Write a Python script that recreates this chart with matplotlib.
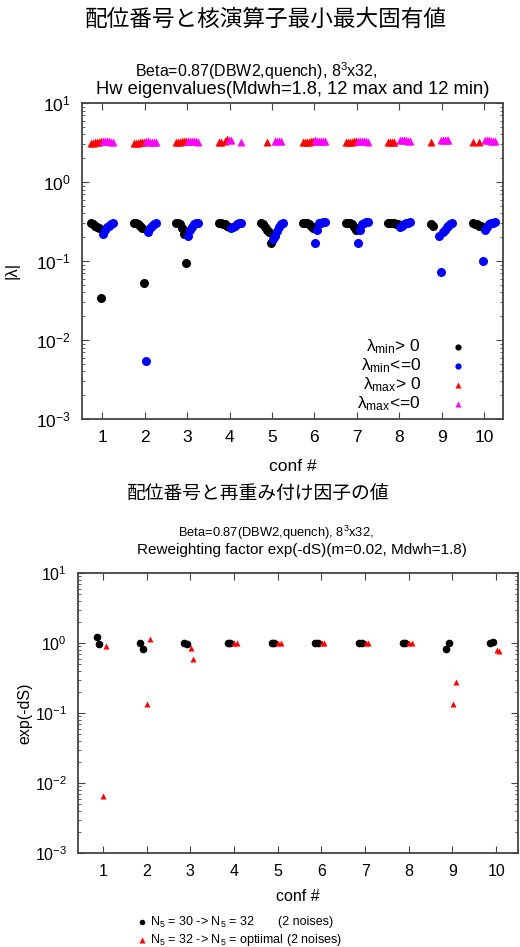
import numpy as np
import matplotlib
matplotlib.use("Agg")
import matplotlib.pyplot as plt

plt.rcParams['font.family'] = ['Liberation Sans', 'Noto Sans CJK JP', 'DejaVu Sans']
plt.rcParams['mathtext.fontset'] = 'custom'
plt.rcParams['mathtext.rm'] = 'Liberation Sans'
plt.rcParams['mathtext.it'] = 'Liberation Sans:italic'
plt.rcParams['mathtext.bf'] = 'Liberation Sans:bold'

confs = [1, 2, 3, 4, 5, 6, 7, 8, 9, 10]
nan = np.nan

# 12 lowest Hw eigenvalues per conf (signed, in plotting order)
min_c1 = [0.30, 0.29, 0.28, 0.27, 0.26, 0.034, -0.22, -0.25, -0.27, -0.28, -0.29, -0.30]
min_c2 = [0.30, 0.30, 0.29, 0.28, 0.26, 0.052, -0.0054, -0.23, -0.26, -0.28, -0.29, -0.30]
min_c3 = [0.30, 0.30, 0.29, 0.26, 0.22, 0.095, -0.21, -0.25, -0.27, -0.29, -0.30, -0.30]
min_c4 = [0.30, 0.30, 0.29, 0.29, 0.28, 0.27, -0.26, -0.27, -0.28, -0.29, -0.30, -0.30]
min_c5 = [0.30, 0.29, 0.27, 0.25, 0.23, 0.17, -0.19, -0.21, -0.24, -0.27, -0.29, -0.30]
min_c6 = [0.30, 0.30, 0.30, 0.29, 0.28, 0.26, -0.17, -0.25, -0.30, -0.30, -0.31, -0.31]
min_c7 = [0.30, 0.30, 0.30, 0.29, 0.27, 0.25, -0.17, -0.25, -0.29, -0.30, -0.31, -0.31]
min_c8 = [0.30, 0.30, 0.30, 0.30, 0.29, 0.29, -0.27, -0.28, -0.29, -0.30, -0.30, -0.31]
min_c9 = [0.29, 0.28, nan, nan, -0.21, -0.073, -0.23, -0.25, -0.27, -0.28, -0.29, -0.30]
min_c10 = [0.30, 0.29, 0.29, 0.28, 0.28, -0.10, -0.25, -0.27, -0.29, -0.30, -0.30, -0.31]
lam_min = [min_c1, min_c2, min_c3, min_c4, min_c5, min_c6, min_c7, min_c8, min_c9, min_c10]

# 12 highest Hw eigenvalues per conf
max_c1 = [3.15, 3.15, 3.2, 3.2, 3.25, 3.3, -3.35, -3.35, -3.3, -3.3, -3.25, -3.2]
max_c2 = [3.15, 3.15, 3.15, 3.2, 3.2, 3.25, -3.3, -3.3, -3.25, -3.25, -3.2, -3.2]
max_c3 = [3.2, 3.2, 3.25, 3.3, 3.3, 3.3, -3.35, -3.35, -3.3, -3.3, -3.3, -3.25]
max_c4 = [3.2, 3.25, nan, 3.3, 3.5, -3.45, -3.4, nan, nan, nan, nan, -3.2]
max_c5 = [nan, nan, nan, 3.2, nan, nan, nan, -3.3, -3.3, -3.3, -3.3, nan]
max_c6 = [3.2, 3.2, 3.2, 3.25, 3.3, 3.3, -3.4, -3.35, -3.3, -3.3, -3.3, -3.3]
max_c7 = [3.2, 3.2, 3.25, 3.25, 3.3, 3.3, -3.35, -3.35, -3.3, -3.3, -3.3, -3.25]
max_c8 = [3.2, 3.2, 3.25, 3.25, nan, nan, -3.4, -3.4, -3.4, -3.4, -3.35, -3.3]
max_c9 = [3.2, nan, nan, nan, nan, -3.4, -3.45, -3.45, -3.4, -3.4, nan, nan]
max_c10 = [3.2, nan, nan, 3.25, nan, nan, -3.4, -3.4, -3.4, -3.35, -3.35, -3.3]
lam_max = [max_c1, max_c2, max_c3, max_c4, max_c5, max_c6, max_c7, max_c8, max_c9, max_c10]

# reweighting factors exp(-dS), two noises each
ds_30_32_n1 = [1.2, 1.0, 1.01, 1.0, 1.0, 1.0, 1.0, 1.0, 0.82, 1.0]
ds_30_32_n2 = [0.96, 0.81, 0.98, 1.0, 1.0, 1.0, 1.0, 1.0, 1.0, 1.02]
ds_32_opt_n1 = [0.0065, 0.133, 0.86, 1.0, 1.0, 1.0, 1.0, 1.0, 0.134, 0.79]
ds_32_opt_n2 = [0.91, 1.13, 0.59, 1.0, 1.0, 1.0, 1.0, 1.0, 0.28, 0.78]

W, H = 520, 947
fig = plt.figure(figsize=(W / 100, H / 100), dpi=100)


def box(l, t, r, b):
    return [l / W, 1 - b / H, (r - l) / W, (b - t) / H]


def style_axes(ax, fs):
    ax.set_yscale('log')
    ax.set_ylim(1e-3, 1e1)
    ax.set_xticks(confs)
    ax.tick_params(which='both', direction='in', top=True, right=True,
                   labelsize=fs, color='#444444')
    ax.tick_params(which='major', length=5, pad=8)
    ax.tick_params(which='minor', length=2.5)
    for s in ax.spines.values():
        s.set_color('#444444')
        s.set_linewidth(1.3)


# ---------------- top panel ----------------
ax1 = fig.add_axes(box(82, 103, 503, 419))
style_axes(ax1, 12.5)
ax1.set_xlim(0.52, 10.45)

step = 0.047
idx = np.arange(12)
for c, vmin, vmax in zip(confs, lam_min, lam_max):
    x = c + (idx - 5.5) * step
    vmin = np.array(vmin)
    vmax = np.array(vmax)
    ax1.plot(x[vmin > 0], vmin[vmin > 0], 'o', color='black', ms=6.5, mec='none')
    ax1.plot(x[vmin <= 0], -vmin[vmin <= 0], 'o', color='#0000ff', ms=6.5, mec='none')
    ax1.plot(x[vmax > 0], vmax[vmax > 0], '^', color='#ff0000', ms=5.5, mec='none')
    ax1.plot(x[vmax <= 0], -vmax[vmax <= 0], '^', color='#ff00ff', ms=5.5, mec='none')

ax1.set_xlabel('conf #', fontsize=12.5, labelpad=10)
ax1.set_ylabel('|λ|', fontsize=12)
ax1.yaxis.set_label_coords(-0.148, 0.47)

leg_rows = [('λ$_{\\rm min}$> 0', 'o', 'black'),
            ('λ$_{\\rm min}$<=0', 'o', '#0000ff'),
            ('λ$_{\\rm max}$> 0', '^', '#ff0000'),
            ('λ$_{\\rm max}$<=0', '^', '#ff00ff')]
for i, (lab, m, col) in enumerate(leg_rows):
    yy = 0.228 - i * 0.06
    ax1.text(0.805, yy, lab, transform=ax1.transAxes, ha='right', va='center', fontsize=12.5)
    ax1.plot([0.893], [yy], m, color=col, ms=4.5, mec='none', transform=ax1.transAxes)

# ---------------- bottom panel ----------------
ax2 = fig.add_axes(box(78, 573, 518, 853))
style_axes(ax2, 11.5)
ax2.set_xlim(0.43, 10.5)

c = np.array(confs)
ax2.plot(c - 0.14, ds_30_32_n1, 'o', color='black', ms=5.5, mec='none')
ax2.plot(c - 0.08, ds_30_32_n2, 'o', color='black', ms=5.5, mec='none')
ax2.plot(c + 0.01, ds_32_opt_n1, '^', color='#ff0000', ms=4.5, mec='none')
ax2.plot(c + 0.07, ds_32_opt_n2, '^', color='#ff0000', ms=4.5, mec='none')
ax2.set_xlabel('conf #', fontsize=11.5, labelpad=7)
ax2.set_ylabel('exp(-dS)', fontsize=11.5)
ax2.yaxis.set_label_coords(-0.103, 0.5)

# ---------------- titles ----------------
def ftext(x, y, s, **kw):
    fig.text(x / W, 1 - y / H, s, ha='center', va='center', **kw)


ftext(266, 19, '配位番号と核演算子最小最大固有値', fontsize=16.3, family=['Noto Sans CJK JP'])
ftext(256, 71, 'Beta=0.87(DBW2,quench), 8$^3$x32,', fontsize=11.5)
ftext(293, 89, 'Hw eigenvalues(Mdwh=1.8, 12 max and 12 min)', fontsize=13.2)

ftext(258, 494, '配位番号と再重み付け因子の値', fontsize=13.5, family=['Noto Sans CJK JP'])
ftext(276, 533, 'Beta=0.87(DBW2,quench), 8$^3$x32,', fontsize=9.3)
ftext(302, 550, 'Reweighting factor exp(-dS)(m=0.02, Mdwh=1.8)', fontsize=11)

# bottom legend
fig.text(150 / W, 1 - 922 / H, 'N$_5$ = 30 -> N$_5$ = 32', va='center', fontsize=9)
fig.text(278 / W, 1 - 922 / H, '(2 noises)', va='center', fontsize=9)
fig.text(150 / W, 1 - 940 / H, 'N$_5$ = 32 -> N$_5$ = optiimal (2 noises)', va='center', fontsize=9)
fig.lines.append(plt.Line2D([142 / W], [1 - 922 / H], marker='o', color='black', ms=4,
                            mec='none', transform=fig.transFigure))
fig.lines.append(plt.Line2D([142 / W], [1 - 940 / H], marker='^', color='#ff0000', ms=4,
                            mec='none', transform=fig.transFigure))

fig.savefig('out.png', dpi=100)
